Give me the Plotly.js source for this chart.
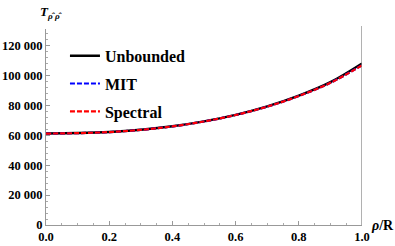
<!DOCTYPE html>
<html><head><meta charset="utf-8">
<script src="https://cdn.plot.ly/plotly-3.0.1.min.js"></script>
<style>body{margin:0;background:#fff}#c{width:395px;height:246px}</style>
</head><body><div id="c"></div>
<script>
const rho = [0.0, 0.1, 0.2, 0.3, 0.4, 0.5, 0.6, 0.7, 0.8, 0.9, 1.0];
const unbounded = [61200, 61500, 62200, 63700, 66000, 69300, 73600, 79300, 86500, 95500, 108000];
const mit = [61100, 61400, 62100, 63600, 65900, 69200, 73500, 79100, 86200, 95000, 106800];
const spectral = [61100, 61400, 62100, 63600, 65900, 69200, 73500, 79100, 86200, 95000, 106700];
const seriesNames = ["Unbounded", "MIT", "Spectral"];
const xTickVals = [0, 0.2, 0.4, 0.6, 0.8, 1.0];
const yTickVals = [0, 20000, 40000, 60000, 80000, 100000, 120000];

const serif = "Liberation Serif";
const traces = [
  {x: rho, y: unbounded, name: seriesNames[0], legendgroup: "a", mode: "lines", line: {color: "#000", width: 2.4, shape: "spline"}},
  {x: rho, y: mit, name: seriesNames[1], legendgroup: "b", mode: "lines", line: {color: "#0000ff", width: 2.2, dash: "5px,2px", shape: "spline"}},
  {x: rho, y: spectral, name: seriesNames[2], legendgroup: "c", mode: "lines", line: {color: "#ff0000", width: 2.2, dash: "5px,2px", shape: "spline"}}
];
const layout = {
  width: 395, height: 246,
  margin: {l: 46, r: 33, t: 29, b: 21},
  paper_bgcolor: "#fff", plot_bgcolor: "#fff",
  separators: ". ",
  showlegend: true,
  legend: {x: 0.06, y: 0.95, xanchor: "left", yanchor: "top", bgcolor: "rgba(0,0,0,0)",
           font: {family: serif, size: 16, color: "#000", weight: "bold"}, tracegroupgap: 4},
  xaxis: {range: [0, 1.0], tickvals: xTickVals, tickformat: ".1f", showgrid: false, zeroline: false,
          showline: true, linecolor: "#999", linewidth: 1, ticks: "inside", ticklen: 4, tickcolor: "#999",
          minor: {dtick: 0.05, ticks: "inside", ticklen: 2, tickcolor: "#aaa", showgrid: false},
          tickfont: {family: serif, size: 12.5, color: "#000", weight: "bold"}, fixedrange: true},
  yaxis: {range: [0, 131000], tickvals: yTickVals, tickformat: ",d", showgrid: false, zeroline: false,
          showline: true, linecolor: "#999", linewidth: 1, ticks: "inside", ticklen: 4, tickcolor: "#999",
          minor: {dtick: 4000, ticks: "inside", ticklen: 2, tickcolor: "#aaa", showgrid: false},
          tickfont: {family: serif, size: 12.5, color: "#000", weight: "bold"}, fixedrange: true},
  shapes: [{type: "line", xref: "x", yref: "paper", x0: 1, x1: 1, y0: 0, y1: 1.015,
            line: {color: "#888", width: 1.3}}],
  annotations: [
    {xref: "paper", yref: "paper", x: -0.025, y: 1.14, xanchor: "left", yanchor: "top", showarrow: false,
     text: "<i>T</i><sub><i>ρ̂</i> <i>ρ̂</i></sub>", font: {family: serif, size: 13, color: "#000", weight: "bold"}},
    {xref: "paper", yref: "paper", x: 1.022, y: 0.0, xanchor: "left", yanchor: "middle", showarrow: false,
     text: "<i>ρ</i>/R", font: {family: serif, size: 14, color: "#000", weight: "bold"}}
  ]
};
Plotly.newPlot("c", traces, layout, {displayModeBar: false, staticPlot: true});
</script></body></html>
